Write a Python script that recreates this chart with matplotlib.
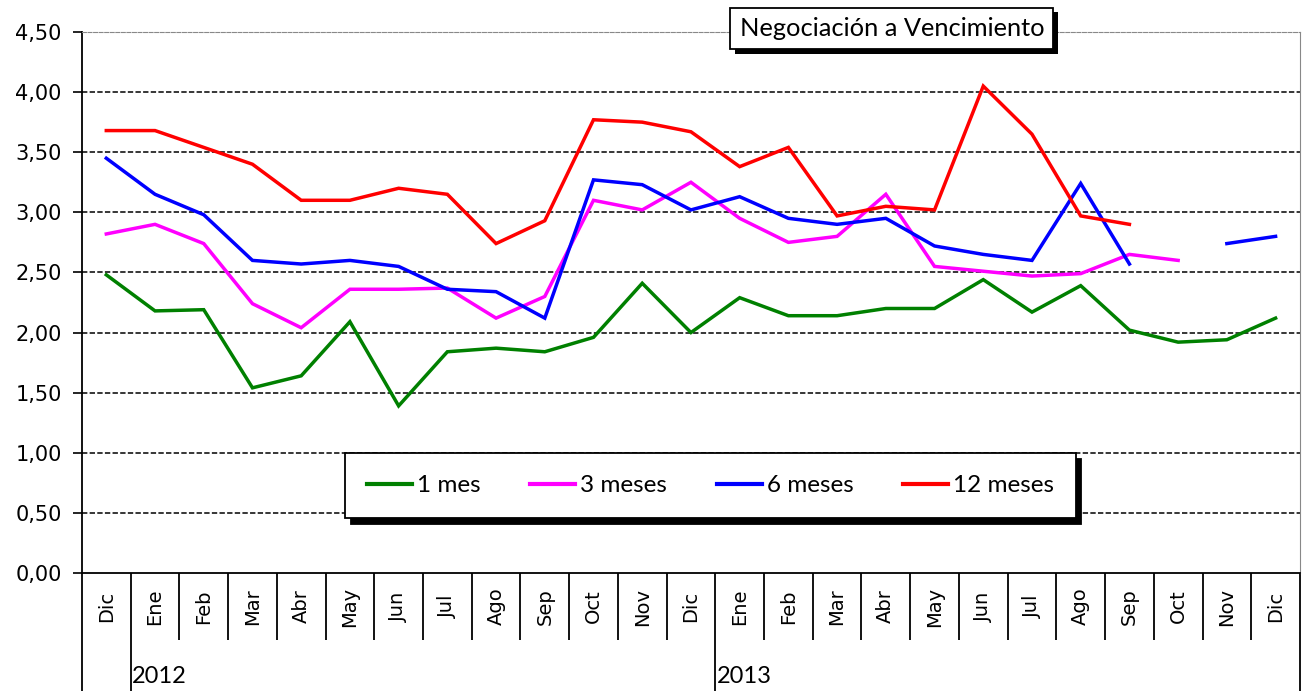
import numpy as np
import matplotlib
matplotlib.use("Agg")
import matplotlib.pyplot as plt
import matplotlib.patheffects as pe
from matplotlib.ticker import FuncFormatter

# datos (Dic 2011 .. Dic 2013)
meses = ['Dic', 'Ene', 'Feb', 'Mar', 'Abr', 'May', 'Jun', 'Jul', 'Ago', 'Sep', 'Oct', 'Nov', 'Dic',
         'Ene', 'Feb', 'Mar', 'Abr', 'May', 'Jun', 'Jul', 'Ago', 'Sep', 'Oct', 'Nov', 'Dic']
anios = [('2012', 1), ('2013', 13)]
nan = np.nan

mes_1 = [2.48, 2.18, 2.19, 1.54, 1.64, 2.09, 1.39, 1.84, 1.87, 1.84, 1.96, 2.41, 2.00,
         2.29, 2.14, 2.14, 2.20, 2.20, 2.44, 2.17, 2.39, 2.02, 1.92, 1.94, 2.12]
meses_3 = [2.82, 2.90, 2.74, 2.24, 2.04, 2.36, 2.36, 2.37, 2.12, 2.30, 3.10, 3.02, 3.25,
           2.95, 2.75, 2.80, 3.15, 2.55, 2.51, 2.47, 2.49, 2.65, 2.60, nan, nan]
meses_6 = [3.45, 3.15, 2.98, 2.60, 2.57, 2.60, 2.55, 2.36, 2.34, 2.12, 3.27, 3.23, 3.02,
           3.13, 2.95, 2.90, 2.95, 2.72, 2.65, 2.60, 3.24, 2.57, nan, 2.74, 2.80]
meses_12 = [3.68, 3.68, 3.54, 3.40, 3.10, 3.10, 3.20, 3.15, 2.74, 2.93, 3.77, 3.75, 3.67,
            3.38, 3.54, 2.97, 3.05, 3.02, 4.05, 3.65, 2.97, 2.90, nan, nan, nan]

series = [('1 mes', mes_1, '#008000'),
          ('3 meses', meses_3, '#ff00ff'),
          ('6 meses', meses_6, '#0000ff'),
          ('12 meses', meses_12, '#ff0000')]

fig = plt.figure(figsize=(13.07, 6.91), dpi=100)
ax = fig.add_axes([0.0627, 0.1708, 0.9319, 0.7829])

x = np.arange(len(meses))
for nombre, valores, color in series:
    ax.plot(x, valores, color=color, lw=2.5, label=nombre, solid_joinstyle='miter')

ax.set_xlim(-0.5, len(meses) - 0.5)
ax.set_ylim(0, 4.5)
ax.set_yticks(np.arange(0, 4.51, 0.5))
ax.yaxis.set_major_formatter(FuncFormatter(lambda v, p: f"{v:.2f}".replace('.', ',')))
ax.tick_params(axis='y', direction='out', length=6.5, width=1.2, labelsize=15, pad=8)

# líneas de rejilla discontinuas
for v in np.arange(0.5, 4.01, 0.5):
    ax.axhline(v, color='black', lw=1.1, ls=(0, (3.5, 1.5)), zorder=0)

for lado in ['top', 'right']:
    ax.spines[lado].set_color('#888888')
ax.spines['top'].set_linestyle((0, (3.5, 1.5)))
ax.spines['left'].set_linewidth(1.3)
ax.spines['bottom'].set_linewidth(1.3)

# marcas del eje de categorías
separadores = [-0.5] + [s - 0.5 for _, s in anios] + [len(meses) - 0.5]
ax.set_xticks(separadores)
ax.set_xticklabels([''] * len(separadores))
ax.set_xticks([i - 0.5 for i in range(1, len(meses)) if i - 0.5 not in separadores], minor=True)
ax.tick_params(axis='x', which='major', direction='out', length=85, width=1.3, color='black')
ax.tick_params(axis='x', which='minor', direction='out', length=48, width=1.3, color='black')

trans = ax.get_xaxis_transform()
for i, m in enumerate(meses):
    ax.text(i, -0.062, m, rotation=90, ha='center', va='center', fontsize=14,
            transform=trans, family='DejaVu Sans')
for anio, pos in anios:
    ax.text(pos - 0.47, -0.192, anio, ha='left', va='center', fontsize=17,
            transform=trans, family='Lato')

# título en recuadro con sombra
titulo = ax.text(0.665, 1.007, 'Negociación a Vencimiento', transform=ax.transAxes,
                 ha='center', va='center', fontsize=18.3, family='Lato', zorder=5,
                 bbox=dict(boxstyle='square,pad=0.36', fc='white', ec='black', lw=1.3))
titulo.get_bbox_patch().set_path_effects([
    pe.SimplePatchShadow(offset=(3.5, -3.5), shadow_rgbFace='black', alpha=1),
    pe.Normal()])

leg = ax.legend(loc='center', bbox_to_anchor=(0.516, 0.161), ncol=4, frameon=True,
                fancybox=False, shadow={'color': 'black', 'alpha': 1, 'ox': 4, 'oy': -4},
                prop={'family': 'Lato', 'size': 17.5}, handlelength=1.85, handletextpad=0.2,
                columnspacing=2.05, borderpad=0.9, borderaxespad=0)
leg.get_frame().set_edgecolor('black')
leg.get_frame().set_linewidth(1.3)
for h in leg.get_lines():
    h.set_linewidth(3)

fig.savefig('out.png', dpi=100)
